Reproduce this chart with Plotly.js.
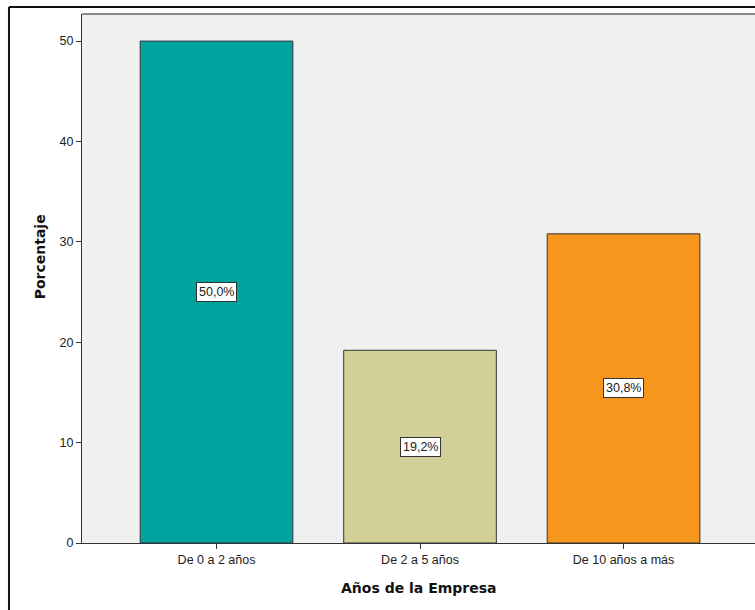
<!DOCTYPE html>
<html>
<head>
<meta charset="utf-8">
<script src="https://cdn.plot.ly/plotly-3.0.1.min.js"></script>
<style>
  html, body { margin: 0; padding: 0; background: #ffffff; }
  #chart { width: 755px; height: 610px; }
</style>
</head>
<body>
<div id="chart"></div>
<script>
// Distribución porcentual según antigüedad de la empresa
const categories = ['De 0 a 2 años', 'De 2 a 5 años', 'De 10 años a más'];
const percentages = [50.0, 19.2, 30.8];
const barColors = ['#00a49e', '#d3cf99', '#f7961e'];
const yTicks = [0, 10, 20, 30, 40, 50];

const fmt = v => v.toFixed(1).replace('.', ',') + '%';
const tickFont = 'Liberation Sans, Arial, sans-serif';
const titleFont = 'DejaVu Sans, Verdana, sans-serif';

const trace = {
  type: 'bar',
  x: categories,
  y: percentages,
  marker: { color: barColors, line: { color: '#333333', width: 1 } },
  hoverinfo: 'x+y'
};

// Value boxes centred inside each bar
const labels = categories.map((c, i) => ({
  x: c,
  y: percentages[i] / 2,
  xref: 'x',
  yref: 'y',
  text: fmt(percentages[i]),
  showarrow: false,
  bgcolor: '#ffffff',
  bordercolor: '#333333',
  borderwidth: 1,
  borderpad: 2,
  font: { family: tickFont, size: 12.5, color: '#222222' }
}));

// Axis titles placed as annotations
labels.push({
  text: '<b>Porcentaje</b>',
  xref: 'paper', yref: 'paper',
  x: -0.0624, y: 0.54,
  xanchor: 'center', yanchor: 'middle',
  textangle: -90,
  showarrow: false,
  font: { family: titleFont, size: 14, color: '#111111' }
});
labels.push({
  text: '<b>Años de la Empresa</b>',
  xref: 'paper', yref: 'paper',
  x: 0.5, y: -0.085,
  xanchor: 'center', yanchor: 'middle',
  showarrow: false,
  font: { family: titleFont, size: 14, color: '#111111' }
});

const layout = {
  width: 755,
  height: 610,
  margin: { l: 82, r: 0, t: 14, b: 67 },
  paper_bgcolor: '#ffffff',
  plot_bgcolor: '#f0f0f0',
  showlegend: false,
  bargap: 0.25,
  font: { family: tickFont, size: 12, color: '#222222' },
  xaxis: {
    type: 'category',
    range: [-0.661, 2.646],
    showgrid: false,
    zeroline: false,
    showline: true,
    linecolor: '#333333',
    linewidth: 1,
    ticks: 'outside',
    ticklen: 5,
    tickcolor: '#333333',
    tickfont: { family: tickFont, size: 12.5, color: '#222222' },
    fixedrange: true
  },
  yaxis: {
    range: [0, 52.7],
    tickvals: yTicks,
    showgrid: false,
    zeroline: false,
    showline: true,
    linecolor: '#333333',
    linewidth: 1,
    ticks: 'outside',
    ticklen: 5,
    tickcolor: '#333333',
    tickfont: { family: tickFont, size: 12.5, color: '#222222' },
    fixedrange: true
  },
  annotations: labels,
  shapes: [
    // top edge of the plotting area
    { type: 'line', xref: 'paper', yref: 'paper', x0: 0, x1: 1, y0: 1, y1: 1,
      line: { color: '#8a8a8a', width: 2 } },
    // outer frame around the figure
    { type: 'line', xref: 'paper', yref: 'paper', x0: -0.1085, x1: 1.05, y0: 1.0132, y1: 1.0132,
      line: { color: '#111111', width: 2 } },
    { type: 'line', xref: 'paper', yref: 'paper', x0: -0.1085, x1: -0.1085, y0: -0.2, y1: 1.0132,
      line: { color: '#111111', width: 2 } }
  ]
};

Plotly.newPlot('chart', [trace], layout, { displayModeBar: false, staticPlot: true });
</script>
</body>
</html>
